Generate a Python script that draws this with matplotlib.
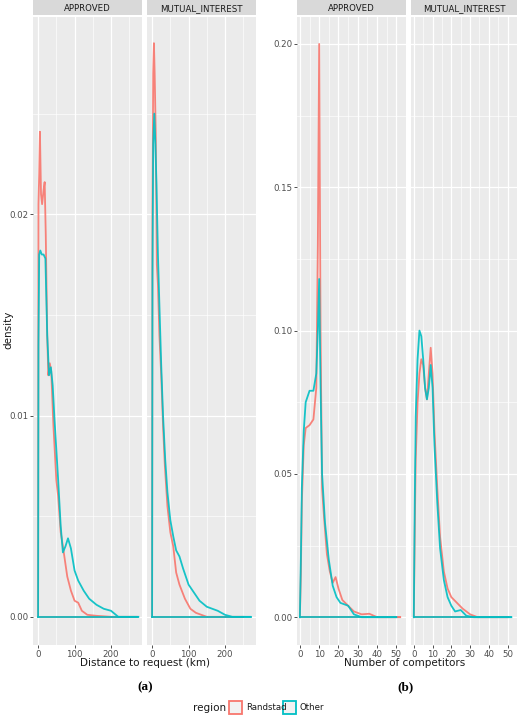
import matplotlib
matplotlib.use("Agg")
import matplotlib.pyplot as plt
from matplotlib.patches import Rectangle
import numpy as np

RED, CYAN = "#F8766D", "#00BFC4"
facets = ["APPROVED", "MUTUAL_INTEREST"]

# Distance to request (km)
dA_r_x = [0, 1, 3, 5, 8, 11, 15, 18, 21, 25, 28, 32, 36, 42, 50, 55, 62, 68, 72, 80, 90, 100, 110, 120, 135, 160, 200, 270]
dA_r_y = [0.0, 0.0205, 0.022, 0.0241, 0.021, 0.0205, 0.0212, 0.0216, 0.019, 0.014, 0.012, 0.0126, 0.0122, 0.0095, 0.0068, 0.006, 0.0042, 0.0035, 0.003, 0.002, 0.0013, 0.0008, 0.0007, 0.0003, 0.0001, 0.00005, 0.0, 0.0]
dA_o_x = [0, 1, 3, 6, 10, 15, 20, 25, 30, 35, 40, 45, 55, 62, 68, 75, 82, 90, 100, 110, 125, 140, 160, 180, 200, 220, 275]
dA_o_y = [0.0, 0.0135, 0.018, 0.0182, 0.018, 0.018, 0.0178, 0.014, 0.012, 0.0124, 0.0115, 0.0098, 0.0068, 0.0045, 0.0032, 0.0035, 0.0039, 0.0034, 0.0023, 0.0018, 0.0013, 0.0009, 0.0006, 0.0004, 0.0003, 0.0, 0.0]
dM_r_x = [0, 1, 3, 5, 7, 10, 13, 16, 20, 25, 30, 35, 42, 50, 58, 66, 75, 90, 105, 120, 150, 250]
dM_r_y = [0.0, 0.02, 0.027, 0.0285, 0.027, 0.024, 0.0175, 0.0165, 0.014, 0.012, 0.0095, 0.0075, 0.0055, 0.0042, 0.0035, 0.0022, 0.0016, 0.0009, 0.0004, 0.0002, 0.0, 0.0]
dM_o_x = [0, 1, 3, 6, 9, 12, 16, 20, 25, 30, 36, 42, 50, 58, 66, 75, 85, 100, 115, 130, 150, 180, 200, 220, 270]
dM_o_y = [0.0, 0.017, 0.0235, 0.025, 0.0235, 0.0215, 0.018, 0.0155, 0.0125, 0.01, 0.0078, 0.0062, 0.0048, 0.004, 0.0033, 0.003, 0.0024, 0.0016, 0.0012, 0.0008, 0.0005, 0.0003, 0.0001, 0.0, 0.0]

# Number of competitors
cA_r_x = [0, 0.5, 1, 2, 3, 5, 7, 8.5, 9.3, 10, 10.7, 11.5, 12.5, 14, 15.5, 17, 18.5, 20, 22, 25, 28, 32, 36, 40, 52]
cA_r_y = [0.0, 0.015, 0.04, 0.06, 0.066, 0.067, 0.069, 0.08, 0.13, 0.2, 0.1, 0.045, 0.035, 0.022, 0.016, 0.012, 0.014, 0.01, 0.006, 0.004, 0.002, 0.001, 0.0012, 0.0, 0.0]
cA_o_x = [0, 0.5, 1, 2, 3, 5, 7, 8.5, 9.3, 10, 10.7, 11.5, 13, 15, 17, 19, 21, 25, 28, 32, 50]
cA_o_y = [0.0, 0.02, 0.045, 0.065, 0.075, 0.079, 0.079, 0.085, 0.1, 0.118, 0.08, 0.05, 0.033, 0.02, 0.011, 0.007, 0.005, 0.004, 0.001, 0.0, 0.0]
cM_r_x = [0, 0.5, 1, 2, 3, 4, 5, 6, 7, 8, 9, 10, 11, 12.5, 14, 16, 18, 20, 23, 26, 30, 34, 50]
cM_r_y = [0.0, 0.03, 0.055, 0.075, 0.085, 0.09, 0.088, 0.08, 0.076, 0.085, 0.094, 0.085, 0.065, 0.045, 0.028, 0.016, 0.01, 0.007, 0.005, 0.003, 0.001, 0.0, 0.0]
cM_o_x = [0, 0.5, 1, 2, 3, 4, 5, 6, 7, 8, 9, 10, 11, 12.5, 14, 16, 18, 20, 22, 25, 28, 32, 52]
cM_o_y = [0.0, 0.04, 0.07, 0.09, 0.1, 0.098, 0.09, 0.08, 0.076, 0.08, 0.088, 0.08, 0.06, 0.04, 0.024, 0.013, 0.007, 0.004, 0.002, 0.0025, 0.0005, 0.0, 0.0]

W, H = 520, 716
fig = plt.figure(figsize=(W/100, H/100), dpi=100)

def ax_px(x0, x1, y0, y1):
    return fig.add_axes([x0/W, 1-y1/H, (x1-x0)/W, (y1-y0)/H])

def panel(x0, x1, title, xlim, ylim, xt, xm, yt, ym, series, show_y, ylabels):
    s = ax_px(x0, x1, 0, 15)
    s.set_facecolor("#D9D9D9"); s.set_xticks([]); s.set_yticks([])
    for sp in s.spines.values(): sp.set_visible(False)
    s.text(0.5, 0.45, title, ha="center", va="center", fontsize=6.2, color="#1A1A1A")
    a = ax_px(x0, x1, 17, 645)
    a.set_facecolor("#EBEBEB")
    for sp in a.spines.values(): sp.set_visible(False)
    a.set_xlim(*xlim); a.set_ylim(*ylim)
    a.set_xticks(xt); a.set_xticks(xm, minor=True)
    a.set_yticks(yt); a.set_yticks(ym, minor=True)
    a.grid(True, which="major", color="white", lw=0.9)
    a.grid(True, which="minor", color="white", lw=0.45)
    a.set_axisbelow(True)
    a.tick_params(which="minor", length=0)
    a.tick_params(which="major", length=2, width=0.6, color="#333333", labelsize=6.2, labelcolor="#4D4D4D", pad=1.5)
    a.set_xticklabels([str(v) for v in xt])
    if show_y:
        a.set_yticklabels(ylabels)
    else:
        a.tick_params(axis="y", left=False, labelleft=False)
    for xs, ys, c in series:
        a.plot([xs[0], xs[-1]], [0, 0], color=c, lw=1.3, alpha=0.9)
        a.plot(xs, ys, color=c, lw=1.3, alpha=0.9)
    return a

ly = [0, 0.01, 0.02]
panel(33, 142, "APPROVED", (-14, 285), (-0.0014, 0.0298), [0, 100, 200], [50, 150, 250], ly, [0.005, 0.015, 0.025],
      [(dA_r_x, dA_r_y, RED), (dA_o_x, dA_o_y, CYAN)], True, ["0.00", "0.01", "0.02"])
panel(147, 256, "MUTUAL_INTEREST", (-14, 285), (-0.0014, 0.0298), [0, 100, 200], [50, 150, 250], ly, [0.005, 0.015, 0.025],
      [(dM_r_x, dM_r_y, RED), (dM_o_x, dM_o_y, CYAN)], False, None)
ry = [0, 0.05, 0.10, 0.15, 0.20]
rm = [0.025, 0.075, 0.125, 0.175]
panel(297, 406, "APPROVED", (-1.5, 54.5), (-0.0097, 0.2094), list(range(0, 51, 10)), list(range(5, 56, 10)), ry, rm,
      [(cA_r_x, cA_r_y, RED), (cA_o_x, cA_o_y, CYAN)], True, ["0.00", "0.05", "0.10", "0.15", "0.20"])
panel(411, 517, "MUTUAL_INTEREST", (-1.5, 53.5), (-0.0097, 0.2094), list(range(0, 51, 10)), list(range(5, 56, 10)), ry, rm,
      [(cM_r_x, cM_r_y, RED), (cM_o_x, cM_o_y, CYAN)], False, None)

def ft(x, y, s, **kw):
    fig.text(x/W, 1-y/H, s, ha="center", va="center", **kw)

ft(8, 330, "density", rotation=90, fontsize=7.5, color="#1A1A1A")
ft(145, 663, "Distance to request (km)", fontsize=7.5, color="#1A1A1A")
ft(405, 663, "Number of competitors", fontsize=7.5, color="#1A1A1A")
ft(145, 687, "(a)", fontsize=9.5, fontweight="bold", family="Liberation Serif")
ft(405, 687, "(b)", fontsize=9.5, fontweight="bold", family="Liberation Serif")
ft(210, 708, "region", fontsize=7.5, color="#1A1A1A")
for bx, lab, c in [(229, "Randstad", RED), (283, "Other", CYAN)]:
    fig.patches.append(Rectangle((bx/W, 1-714/H), 13/W, 13/H, transform=fig.transFigure,
                                 facecolor="#F2F2F2", edgecolor=c, lw=1.3))
    fig.text((bx+17)/W, 1-708/H, lab, ha="left", va="center", fontsize=6.2, color="#1A1A1A")

fig.savefig("out.png", dpi=100)
